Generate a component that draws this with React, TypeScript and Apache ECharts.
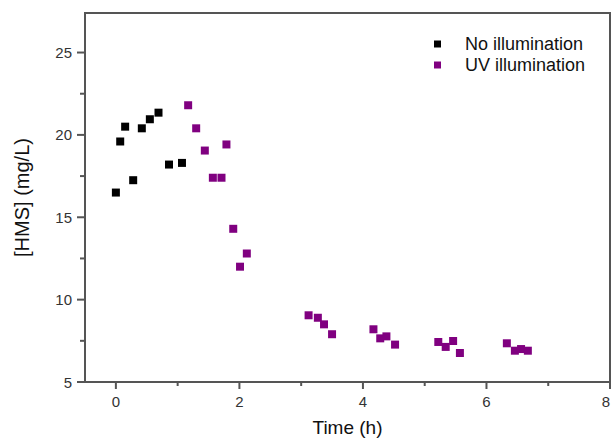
import React, { useEffect, useRef } from "react";
import * as echarts from "echarts";

const noIllumX = [0, 0.07, 0.15, 0.28, 0.42, 0.55, 0.69, 0.86, 1.07];
const noIllumY = [16.5, 19.6, 20.5, 17.25, 20.4, 20.95, 21.35, 18.2, 18.3];

const uvX = [1.17, 1.3, 1.44, 1.57, 1.71, 1.79, 1.9, 2.01, 2.12, 3.12, 3.27, 3.37, 3.5, 4.17, 4.28, 4.38, 4.52, 5.22, 5.34, 5.46, 5.57, 6.33, 6.46, 6.56, 6.67];
const uvY = [21.8, 20.4, 19.05, 17.4, 17.4, 19.42, 14.3, 12.0, 12.8, 9.05, 8.9, 8.5, 7.9, 8.2, 7.65, 7.77, 7.27, 7.43, 7.13, 7.49, 6.76, 7.35, 6.9, 7.0, 6.9];

const xMajorTicks = [0, 2, 4, 6, 8];
const xMinorTicks = [1, 3, 5, 7];
const yMajorTicks = [5, 10, 15, 20, 25];
const yMinorTicks = [7.5, 12.5, 17.5, 22.5];

const seriesNames = ["No illumination", "UV illumination"];

const X_MIN = -0.5;
const X_MAX = 8;
const Y_MIN = 5;
const Y_MAX = 27.4;

const FONT = "'Liberation Sans', Arial, sans-serif";
const AXIS_COLOR = "#555555";

export default function App() {
  const ref = useRef<HTMLDivElement>(null);
  useEffect(() => {
    if (!ref.current) return;
    const chart = echarts.init(ref.current, undefined, { renderer: "svg" });

    // tick marks: [value, axis (0 = x, 1 = y), length in px]
    const tickData = [
      ...xMajorTicks.map((v) => [v, 0, 7]),
      ...xMinorTicks.map((v) => [v, 0, 4]),
      ...yMajorTicks.map((v) => [v, 1, 8]),
      ...yMinorTicks.map((v) => [v, 1, 5]),
    ];

    chart.setOption({
      animation: false,
      backgroundColor: "#fff",
      grid: {
        left: 85,
        top: 13,
        right: 2,
        bottom: 57,
        containLabel: false,
        outerBoundsMode: "none",
        show: true,
        borderColor: AXIS_COLOR,
        borderWidth: 2,
      },
      legend: {
        data: seriesNames,
        orient: "vertical",
        left: 429,
        top: 30,
        icon: "rect",
        itemWidth: 7,
        itemHeight: 7,
        itemGap: 3,
        textStyle: { fontSize: 18, color: "#111", fontFamily: FONT, padding: [0, 0, 0, 19] },
      },
      xAxis: {
        type: "value",
        min: X_MIN,
        max: X_MAX,
        splitLine: { show: false },
        name: "Time (h)",
        nameLocation: "middle",
        nameGap: 36,
        nameTextStyle: { fontSize: 19, color: "#111", fontFamily: FONT },
        axisLine: { show: true, onZero: false, lineStyle: { color: AXIS_COLOR, width: 2 } },
        axisTick: { show: false },
        axisLabel: { customValues: xMajorTicks, alignMaxLabel: "right", margin: 12, fontSize: 15, color: "#333", fontFamily: FONT },
      },
      yAxis: {
        type: "value",
        min: Y_MIN,
        max: Y_MAX,
        splitLine: { show: false },
        name: "[HMS] (mg/L)",
        nameLocation: "middle",
        nameGap: 53,
        nameTextStyle: { fontSize: 20, color: "#111", fontFamily: FONT },
        axisLine: { show: true, onZero: false, lineStyle: { color: AXIS_COLOR, width: 2 } },
        axisTick: { show: false },
        axisLabel: { customValues: yMajorTicks, margin: 13, fontSize: 15, color: "#333", fontFamily: FONT },
      },
      series: [
        {
          name: seriesNames[0],
          type: "scatter",
          symbol: "rect",
          symbolSize: 8,
          itemStyle: { color: "#000", opacity: 1 },
          data: noIllumX.map((x, i) => [x, noIllumY[i]]),
        },
        {
          name: seriesNames[1],
          type: "scatter",
          symbol: "rect",
          symbolSize: 8,
          itemStyle: { color: "#800080", opacity: 1 },
          data: uvX.map((x, i) => [x, uvY[i]]),
        },
        {
          type: "custom",
          silent: true,
          clip: false,
          z: 10,
          data: tickData,
          renderItem: (_params: any, api: any) => {
            const v = api.value(0);
            const axis = api.value(1);
            const len = api.value(2);
            if (axis === 0) {
              const p = api.coord([v, Y_MIN]);
              return {
                type: "rect",
                shape: { x: p[0] - 1, y: p[1], width: 2, height: len },
                style: { fill: AXIS_COLOR },
              };
            }
            const p = api.coord([X_MIN, v]);
            return {
              type: "rect",
              shape: { x: p[0] - len, y: p[1] - 1, width: len, height: 2 },
              style: { fill: AXIS_COLOR },
            };
          },
        },
      ],
    });
    return () => chart.dispose();
  }, []);
  return <div ref={ref} style={{ width: 612, height: 439, position: "absolute", left: 0, top: 0 }} />;
}
